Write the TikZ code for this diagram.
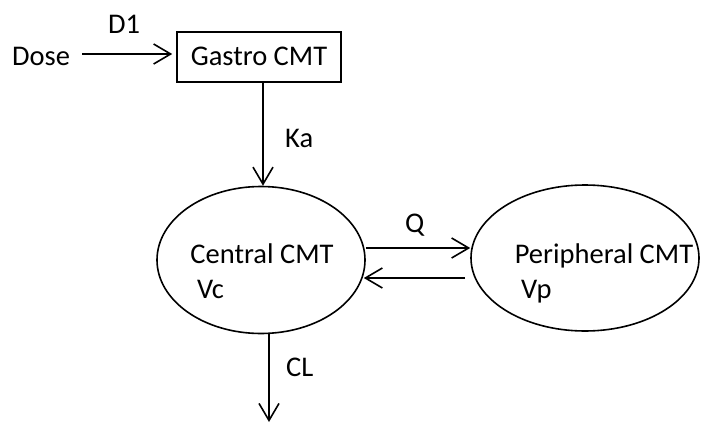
\documentclass[tikz,border=0pt]{standalone}
\usepackage{fontspec}
\setmainfont{Carlito}
\usetikzlibrary{shapes.geometric,arrows.meta}
\begin{document}
\begin{tikzpicture}[x=1pt,y=-1pt,
  every node/.style={font=\fontsize{28.5}{32}\selectfont, inner sep=0pt},
  lbl/.style={anchor=base west},
  arr/.style={line width=1.6pt, -{Straight Barb[length=17pt,width=20pt,line width=1.6pt]}},
  box/.style={draw, line width=1.6pt, minimum width=164pt, minimum height=50pt},
  cmt/.style={draw, ellipse, line width=1.6pt}]
\useasboundingbox (0,0) rectangle (701,423);
\node[lbl] (dose) at (12,65) {Dose};
\node[box] (gastro) at (259,57) {};
\node[anchor=base] (gtext) at (259,65) {Gastro CMT};
\node[cmt, minimum width=208pt, minimum height=147pt] (central) at (261,260) {};
\node[cmt, minimum width=228pt, minimum height=146pt] (peri) at (585,258) {};
\node[anchor=base] (ctext) at (262,263) {Central CMT};
\node[lbl] (vc) at (197,298) {Vc};
\node[anchor=base] (ptext) at (604,263) {Peripheral CMT};
\node[lbl] (vp) at (521,298) {Vp};
\node[lbl] (d1) at (108,33) {D1};
\node[lbl] (ka) at (285,147) {Ka};
\node[lbl] (q) at (405,232) {Q};
\node[lbl] (cl) at (286,376) {CL};
\coordinate (clend) at (269,422);
\coordinate (dstart) at (82,54);
\draw[arr, shorten >=4pt] (dstart) -- (gastro.west |- dstart);
\draw[arr] ([xshift=4pt]gastro.south) -- ([xshift=4pt]gastro.south |- central.north);
\draw[arr] ([yshift=12pt]central.east) -- ([yshift=12pt]central.east -| peri.west);
\draw[arr] ([yshift=-18pt,xshift=-5pt]central.east -| peri.west) -- ([yshift=-18pt,xshift=-2pt]central.east);
\draw[arr] (clend |- central.south) -- (clend);
\end{tikzpicture}
\end{document}
